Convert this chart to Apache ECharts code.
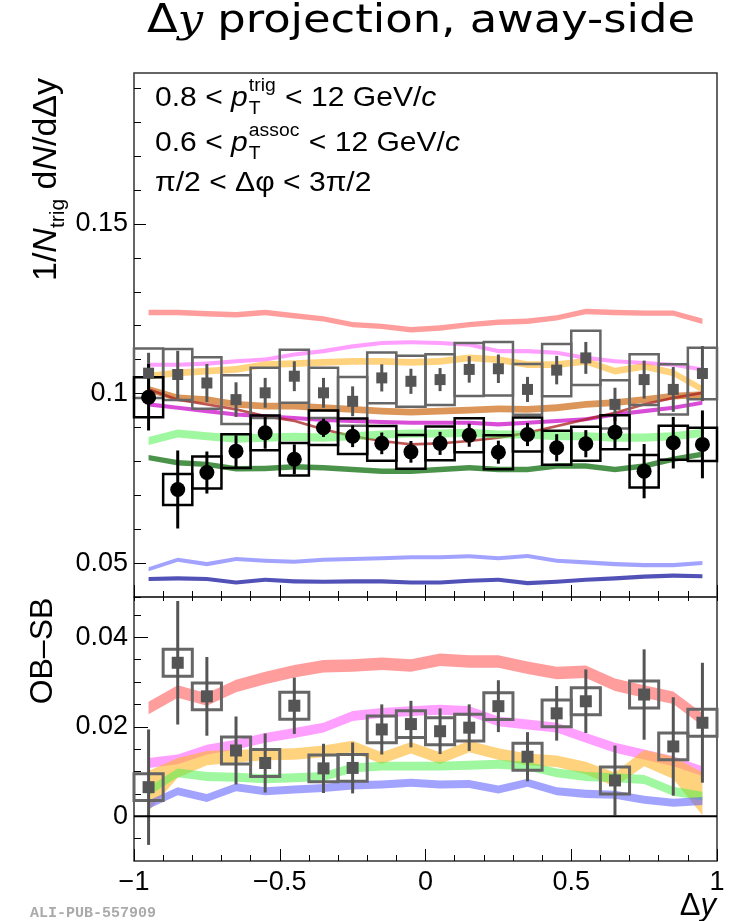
<!DOCTYPE html>
<html><head><meta charset="utf-8">
<script src="https://cdn.jsdelivr.net/npm/echarts@6/dist/echarts.min.js"></script>
<style>html,body{margin:0;padding:0;background:#fff}#c{width:738px;height:921px}</style>
</head><body><div id="c"></div>
<script>
// ---------------- DATA ----------------
const xCenters = [-0.95,-0.85,-0.75,-0.65,-0.55,-0.45,-0.35,-0.25,-0.15,-0.05,0.05,0.15,0.25,0.35,0.45,0.55,0.65,0.75,0.85,0.95];
const binHalfWidth = 0.05;

// top panel: 1/Ntrig dN/dDeltay
const dataBlack     = [0.0989,0.0717,0.0767,0.0830,0.0884,0.0806,0.0899,0.0874,0.0853,0.0828,0.0853,0.0877,0.0827,0.0879,0.0840,0.0852,0.0886,0.0771,0.0855,0.0850];
const dataBlackStat = [0.0098,0.0115,0.0062,0.0047,0.0047,0.0044,0.0027,0.0032,0.0032,0.0032,0.0034,0.0034,0.0034,0.0034,0.0040,0.0040,0.0050,0.0080,0.0076,0.0100];
const dataBlackSyst = [0.0059,0.0046,0.0047,0.0050,0.0051,0.0048,0.0051,0.0052,0.0051,0.0050,0.0050,0.0050,0.0050,0.0050,0.0050,0.0050,0.0050,0.0048,0.0050,0.0049];

const dataGrey      = [0.1060,0.1056,0.1031,0.0982,0.1002,0.1051,0.1002,0.0977,0.1046,0.1036,0.1041,0.1071,0.1073,0.1012,0.1069,0.1105,0.0968,0.1041,0.1012,0.1059];
const dataGreyStat  = [0.0060,0.0070,0.0056,0.0051,0.0044,0.0044,0.0044,0.0044,0.0040,0.0037,0.0034,0.0039,0.0042,0.0037,0.0042,0.0047,0.0049,0.0056,0.0066,0.0081];
const dataGreySyst  = [0.0073,0.0075,0.0076,0.0072,0.0074,0.0078,0.0074,0.0072,0.0075,0.0075,0.0075,0.0078,0.0079,0.0075,0.0077,0.0080,0.0071,0.0075,0.0074,0.0076];

const topSalmon     = [0.1239,0.1239,0.1235,0.1232,0.1239,0.1229,0.1220,0.1203,0.1198,0.1188,0.1193,0.1203,0.1210,0.1213,0.1223,0.1242,0.1239,0.1237,0.1237,0.1213];
const topViolet     = [0.1085,0.1085,0.1088,0.1095,0.1100,0.1115,0.1125,0.1139,0.1149,0.1151,0.1149,0.1144,0.1125,0.1125,0.1120,0.1105,0.1095,0.1090,0.1085,0.1071];
const topOrange     = [0.1051,0.1061,0.1066,0.1071,0.1085,0.1088,0.1092,0.1095,0.1095,0.1092,0.1095,0.1105,0.1100,0.1085,0.1085,0.1095,0.1066,0.1080,0.1061,0.1012];
const topDarkOrange = [0.1012,0.0987,0.0982,0.0968,0.0963,0.0963,0.0958,0.0953,0.0948,0.0945,0.0948,0.0951,0.0955,0.0953,0.0958,0.0968,0.0973,0.0982,0.0992,0.0997];
const topMagenta    = [0.0968,0.0958,0.0948,0.0938,0.0933,0.0928,0.0922,0.0919,0.0916,0.0914,0.0914,0.0914,0.0909,0.0914,0.0919,0.0924,0.0938,0.0948,0.0958,0.0973];
const topDarkRed    = [0.1012,0.0982,0.0968,0.0953,0.0933,0.0919,0.0894,0.0874,0.0860,0.0850,0.0853,0.0860,0.0870,0.0884,0.0904,0.0924,0.0943,0.0968,0.0987,0.1002];
const topLightGreen = [0.0860,0.0882,0.0874,0.0867,0.0870,0.0872,0.0870,0.0874,0.0879,0.0882,0.0882,0.0884,0.0879,0.0879,0.0874,0.0874,0.0870,0.0870,0.0874,0.0884];
const topDarkGreen  = [0.0811,0.0796,0.0791,0.0778,0.0779,0.0784,0.0781,0.0776,0.0771,0.0771,0.0776,0.0781,0.0776,0.0776,0.0786,0.0786,0.0776,0.0786,0.0806,0.0821];
const topLightBlue  = [0.0482,0.0510,0.0497,0.0512,0.0507,0.0504,0.0510,0.0512,0.0514,0.0517,0.0517,0.0520,0.0514,0.0521,0.0507,0.0502,0.0497,0.0494,0.0494,0.0500];
const topDarkBlue   = [0.0453,0.0455,0.0453,0.0443,0.0451,0.0446,0.0445,0.0446,0.0446,0.0443,0.0443,0.0448,0.0451,0.0441,0.0445,0.0451,0.0455,0.0460,0.0463,0.0461];
// band half-widths (model uncertainty)
const topBandHalf = {salmon:0.0008, violet:0.0006, orange:0.0010, darkOrange:0.0010, magenta:0.0006, darkRed:0.0004, lightGreen:0.0012, darkGreen:0.0008, lightBlue:0.0006, darkBlue:0.0006};

// bottom panel: OB-SB
const obsb      = [0.0065,0.0343,0.0268,0.0147,0.0119,0.0247,0.0107,0.0108,0.0194,0.0206,0.0190,0.0198,0.0246,0.0133,0.0230,0.0257,0.0080,0.0272,0.0156,0.0209];
const obsbStat  = [0.0129,0.0138,0.0088,0.0076,0.0066,0.0063,0.0055,0.0057,0.0056,0.0052,0.0051,0.0052,0.0058,0.0055,0.0061,0.0071,0.0078,0.0101,0.0110,0.0134];
const obsbSyst  = [0.0030,0.0030,0.0030,0.0030,0.0030,0.0030,0.0030,0.0030,0.0030,0.0030,0.0030,0.0030,0.0030,0.0030,0.0030,0.0030,0.0030,0.0030,0.0030,0.0030];

const botSalmon = [0.0242,0.0279,0.0261,0.0291,0.0309,0.0324,0.0335,0.0337,0.0341,0.0337,0.0350,0.0346,0.0346,0.0332,0.0320,0.0323,0.0294,0.0279,0.0265,0.0216];
const botViolet = [0.0119,0.0127,0.0149,0.0160,0.0175,0.0186,0.0198,0.0224,0.0231,0.0235,0.0238,0.0235,0.0212,0.0205,0.0198,0.0175,0.0153,0.0138,0.0123,0.0101];
const botOrange = [0.0056,0.0108,0.0130,0.0134,0.0138,0.0139,0.0145,0.0156,0.0130,0.0153,0.0130,0.0156,0.0139,0.0127,0.0123,0.0108,0.0082,0.0130,0.0108,0.0050];
const botOrangeHalf = [0.0045,0.0022,0.0016,0.0014,0.0013,0.0013,0.0013,0.0013,0.0013,0.0013,0.0013,0.0013,0.0013,0.0013,0.0013,0.0014,0.0016,0.0018,0.0025,0.0048];
const botGreen  = [0.0056,0.0097,0.0089,0.0087,0.0084,0.0086,0.0089,0.0108,0.0112,0.0112,0.0112,0.0114,0.0116,0.0112,0.0097,0.0089,0.0086,0.0082,0.0056,0.0045];
const botBlue   = [0.0026,0.0056,0.0041,0.0065,0.0056,0.0060,0.0063,0.0069,0.0071,0.0075,0.0071,0.0072,0.0060,0.0075,0.0056,0.0050,0.0048,0.0037,0.0030,0.0034];
const botBandHalf = {salmon:0.0014, violet:0.0011, green:0.0010, blue:0.0009};

// axes ticks
const xMajorTicks = [-1,-0.5,0,0.5,1];
const topMajorTicks = [0.05,0.1,0.15];
const topMinorTicks = [0.04,0.06,0.07,0.08,0.09,0.11,0.12,0.13,0.14,0.16,0.17,0.18,0.19];
const botMajorTicks = [0,0.02,0.04];
const botMinorTicks = [-0.005,0.005,0.01,0.015,0.025,0.03,0.035,0.045];
const zeroLine = [[-1,0],[1,0]];

// ---------------- HELPERS ----------------
const FAM = 'Liberation Sans';
const cv = document.createElement('canvas').getContext('2d');
function mw(text, font){ cv.font = font; return cv.measureText(text).width; }

function bandSeries(center, half, color, xi, yi){
  const h = i => Array.isArray(half) ? half[i] : half;
  return {
    type:'custom', xAxisIndex:xi, yAxisIndex:yi, silent:true, clip:true,
    data: center.map((c,i)=>[xCenters[i], c, h(i)]),
    renderItem: function(params, api){
      if (params.dataIndex !== 0) return null;
      const up = [], dn = [];
      for (let i=0;i<center.length;i++){
        up.push(api.coord([xCenters[i], center[i]+h(i)]));
        dn.push(api.coord([xCenters[i], center[i]-h(i)]));
      }
      return {type:'polygon', shape:{points: up.concat(dn.reverse())}, style:{fill:color}};
    }
  };
}
function boxSeries(vals, syst, color, lw, xi, yi){
  return {
    type:'custom', xAxisIndex:xi, yAxisIndex:yi, silent:true,
    data: vals.map((v,i)=>[xCenters[i], v, syst[i]]),
    renderItem: function(params, api){
      const x = api.value(0), y = api.value(1), s = api.value(2);
      const p1 = api.coord([x-binHalfWidth, y+s]);
      const p2 = api.coord([x+binHalfWidth, y-s]);
      return {type:'rect', shape:{x:p1[0], y:p1[1], width:p2[0]-p1[0], height:p2[1]-p1[1]},
              style:{fill:'none', stroke:color, lineWidth:lw}};
    }
  };
}
function errSeries(vals, err, color, lw, xi, yi){
  return {
    type:'custom', xAxisIndex:xi, yAxisIndex:yi, silent:true,
    data: vals.map((v,i)=>[xCenters[i], v, err[i]]),
    renderItem: function(params, api){
      const x = api.value(0), y = api.value(1), e = api.value(2);
      const p1 = api.coord([x, y-e]);
      const p2 = api.coord([x, y+e]);
      return {type:'line', shape:{x1:p1[0], y1:p1[1], x2:p2[0], y2:p2[1]}, style:{stroke:color, lineWidth:lw}};
    }
  };
}
function markerSeries(vals, symbol, size, color, xi, yi){
  return {type:'scatter', xAxisIndex:xi, yAxisIndex:yi, symbol:symbol, symbolSize:size, silent:true,
          itemStyle:{color:color, opacity:1}, data: vals.map((v,i)=>[xCenters[i], v])};
}

// rich line of text built from pieces (relative coordinates)
function textLine(pieces, F){
  const out = []; let x = 0;
  pieces.forEach(p=>{
    if (p.sup !== undefined){
      const fs = Math.round(F*0.64);
      const f = fs+'px "'+FAM+'"';
      out.push({type:'text', x:x+1, y:-F*0.44, style:{text:p.sup, font:f, fill:'#000', verticalAlign:'middle'}});
      out.push({type:'text', x:x+1, y:F*0.38, style:{text:p.sub, font:f, fill:'#000', verticalAlign:'middle'}});
      x += Math.max(mw(p.sup,f), mw(p.sub,f)) + 2;
    } else {
      const f = (p.italic?'italic ':'') + F + 'px "'+FAM+'"';
      out.push({type:'text', x:x, y:0, style:{text:p.text, font:f, fill:'#000', verticalAlign:'middle'}});
      x += mw(p.text, f);
    }
  });
  return {children:out, width:x};
}

// ---------------- GRAPHICS (texts) ----------------
const graphics = [];
const AF = 28;
const line1 = textLine([{text:'0.8 < '},{text:'p',italic:true},{sup:'trig',sub:'T'},{text:' < 12 GeV/'},{text:'c',italic:true}], AF);
const line2 = textLine([{text:'0.6 < '},{text:'p',italic:true},{sup:'assoc',sub:'T'},{text:' < 12 GeV/'},{text:'c',italic:true}], AF);
const line3 = textLine([{text:'\u03c0/2 < \u0394\u03c6 < 3\u03c0/2'}], AF);
const annScale = 305 / line2.width;
graphics.push({type:'group', x:155, y:98.5, scaleX:annScale, children:line1.children});
graphics.push({type:'group', x:155, y:143.5, scaleX:annScale, children:line2.children});
graphics.push({type:'group', x:155, y:183.5, scaleX:annScale, children:line3.children});

// title
(function(){
  const TF = 39;
  const f1 = TF+'px "DejaVu Sans"', f2 = 'italic '+TF+'px "DejaVu Serif"';
  const parts = [['\u0394',f1],['y',f2],[' projection, away-side',f1]];
  const total = parts.reduce((s,p)=>s+mw(p[0],p[1]),0);
  const sc = 548/total;
  const children = []; let x = 0;
  parts.forEach(p=>{ children.push({type:'text', x:x, y:0, style:{text:p[0], font:p[1], fill:'#000', verticalAlign:'middle'}}); x += mw(p[0],p[1]); });
  graphics.push({type:'group', x:147, y:22, scaleX:sc, children:children});
})();

// y title top (rotated)
(function(){
  const YF = 34;
  const children = [];
  const nf = YF+'px "'+FAM+'"', itf = 'italic '+YF+'px "'+FAM+'"', sf = Math.round(YF*0.62)+'px "'+FAM+'"';
  const parts = [['1/',nf,0],['N',itf,0],['trig',sf,YF*0.33],[' d',nf,0],['N',itf,0],['/d\u0394y',nf,0]];
  let x = 0;
  parts.forEach(p=>{ children.push({type:'text', x:x, y:p[2], style:{text:p[0], font:p[1], fill:'#000', verticalAlign:'middle'}}); x += mw(p[0],p[1]); });
  graphics.push({type:'group', x:47, y:281, rotation:Math.PI/2, children:children});
})();
graphics.push({type:'text', x:43, y:651, rotation:Math.PI/2, style:{text:'OB\u2013SB', font:'32px "'+FAM+'"', fill:'#000', align:'center', verticalAlign:'middle'}});
// x title
(function(){
  const f1 = '31px "'+FAM+'"', f2 = 'italic 31px "'+FAM+'"';
  const wy = mw('y', f2), wd = mw('\u0394', f1);
  graphics.push({type:'text', x:716-wy-wd, y:906, style:{text:'\u0394', font:f1, fill:'#000', verticalAlign:'middle'}});
  graphics.push({type:'text', x:716-wy, y:906, style:{text:'y', font:f2, fill:'#000', verticalAlign:'middle'}});
})();
graphics.push({type:'text', x:30, y:913, style:{text:'ALI-PUB-557909', font:'bold 15px "Liberation Mono"', fill:'#aaaaaa', verticalAlign:'middle'}});

// ---------------- CHART ----------------
const chart = echarts.init(document.getElementById('c'), null, {renderer:'canvas'});
const tickStyle = {color:'#000', width:1};
const labelStyle = {color:'#000', fontSize:27, fontFamily:FAM};
const minus = v => String(v).replace('-', '\u2212');
const noLine = {show:false, onZero:false};

const option = {
  animation:false,
  backgroundColor:'#fff',
  grid:[
    {left:134, top:73, width:583, height:524, show:true, borderColor:'#333', borderWidth:1.5, backgroundColor:'transparent'},
    {left:134, top:597, width:583, height:264, show:true, borderColor:'#333', borderWidth:1.5, backgroundColor:'transparent'}
  ],
  xAxis:[
    {gridIndex:0, type:'value', position:'bottom', min:-1, max:1, interval:0.5, axisLine:noLine, splitLine:{show:false},
     axisTick:{inside:true, length:12, lineStyle:tickStyle}, minorTick:{show:true, splitNumber:5, length:6, lineStyle:tickStyle},
     axisLabel:{show:false}},
    {gridIndex:1, type:'value', position:'bottom', min:-1, max:1, interval:0.5, axisLine:noLine, splitLine:{show:false},
     axisTick:{inside:true, length:12, lineStyle:tickStyle}, minorTick:{show:true, splitNumber:5, length:6, lineStyle:tickStyle},
     axisLabel:Object.assign({margin:8, formatter:minus}, labelStyle)},
    {gridIndex:1, type:'value', position:'top', min:-1, max:1, interval:0.5, axisLine:noLine, splitLine:{show:false},
     axisTick:{inside:true, length:4, lineStyle:tickStyle}, minorTick:{show:true, splitNumber:5, length:4, lineStyle:tickStyle},
     axisLabel:{show:false}}
  ],
  yAxis:[
    {gridIndex:0, type:'value', position:'left', min:0.04, max:0.1945, axisLine:noLine, splitLine:{show:false},
     axisTick:{inside:true, length:12, lineStyle:tickStyle, customValues:topMajorTicks},
     axisLabel:Object.assign({margin:6, customValues:topMajorTicks}, labelStyle)},
    {gridIndex:0, type:'value', position:'left', min:0.04, max:0.1945, axisLine:noLine, splitLine:{show:false},
     axisTick:{inside:true, length:7, lineStyle:tickStyle, customValues:topMinorTicks}, axisLabel:{show:false}},
    {gridIndex:1, type:'value', position:'left', min:-0.01, max:0.049, axisLine:noLine, splitLine:{show:false},
     axisTick:{inside:true, length:14, lineStyle:tickStyle, customValues:botMajorTicks},
     axisLabel:Object.assign({margin:6, customValues:botMajorTicks}, labelStyle)},
    {gridIndex:1, type:'value', position:'left', min:-0.01, max:0.049, axisLine:noLine, splitLine:{show:false},
     axisTick:{inside:true, length:7, lineStyle:tickStyle, customValues:botMinorTicks}, axisLabel:{show:false}}
  ],
  series:[
    // top bands
    bandSeries(topSalmon, topBandHalf.salmon, 'rgba(255,90,90,0.6)', 0, 0),
    bandSeries(topViolet, topBandHalf.violet, 'rgba(255,80,255,0.55)', 0, 0),
    bandSeries(topOrange, topBandHalf.orange, 'rgba(255,180,40,0.6)', 0, 0),
    bandSeries(topDarkOrange, topBandHalf.darkOrange, 'rgba(205,105,20,0.7)', 0, 0),
    bandSeries(topMagenta, topBandHalf.magenta, 'rgba(200,0,200,0.7)', 0, 0),
    bandSeries(topDarkRed, topBandHalf.darkRed, 'rgba(170,30,30,0.75)', 0, 0),
    bandSeries(topLightGreen, topBandHalf.lightGreen, 'rgba(80,240,80,0.55)', 0, 0),
    bandSeries(topDarkGreen, topBandHalf.darkGreen, 'rgba(30,120,30,0.8)', 0, 0),
    bandSeries(topLightBlue, topBandHalf.lightBlue, 'rgba(100,100,255,0.6)', 0, 0),
    bandSeries(topDarkBlue, topBandHalf.darkBlue, 'rgba(50,50,170,0.85)', 0, 0),
    // top grey points
    boxSeries(dataGrey, dataGreySyst, '#666', 2.5, 0, 0),
    errSeries(dataGrey, dataGreyStat, '#555', 3, 0, 0),
    markerSeries(dataGrey, 'rect', 11, '#555', 0, 0),
    // top black points
    boxSeries(dataBlack, dataBlackSyst, '#000', 2.5, 0, 0),
    errSeries(dataBlack, dataBlackStat, '#000', 3, 0, 0),
    markerSeries(dataBlack, 'circle', 15, '#000', 0, 0),
    // bottom
    bandSeries(botSalmon, botBandHalf.salmon, 'rgba(255,90,90,0.6)', 1, 2),
    bandSeries(botViolet, botBandHalf.violet, 'rgba(255,80,255,0.55)', 1, 2),
    bandSeries(botOrange, botOrangeHalf, 'rgba(255,180,40,0.6)', 1, 2),
    bandSeries(botGreen, botBandHalf.green, 'rgba(80,240,80,0.55)', 1, 2),
    bandSeries(botBlue, botBandHalf.blue, 'rgba(100,100,255,0.6)', 1, 2),
    {type:'line', xAxisIndex:1, yAxisIndex:2, data:zeroLine, symbol:'none', silent:true, lineStyle:{color:'#000', width:2}},
    boxSeries(obsb, obsbSyst, '#666', 3, 1, 2),
    errSeries(obsb, obsbStat, '#555', 3, 1, 2),
    markerSeries(obsb, 'rect', 12, '#555', 1, 2)
  ],
  graphic: graphics
};
chart.setOption(option);
</script>
</body></html>
